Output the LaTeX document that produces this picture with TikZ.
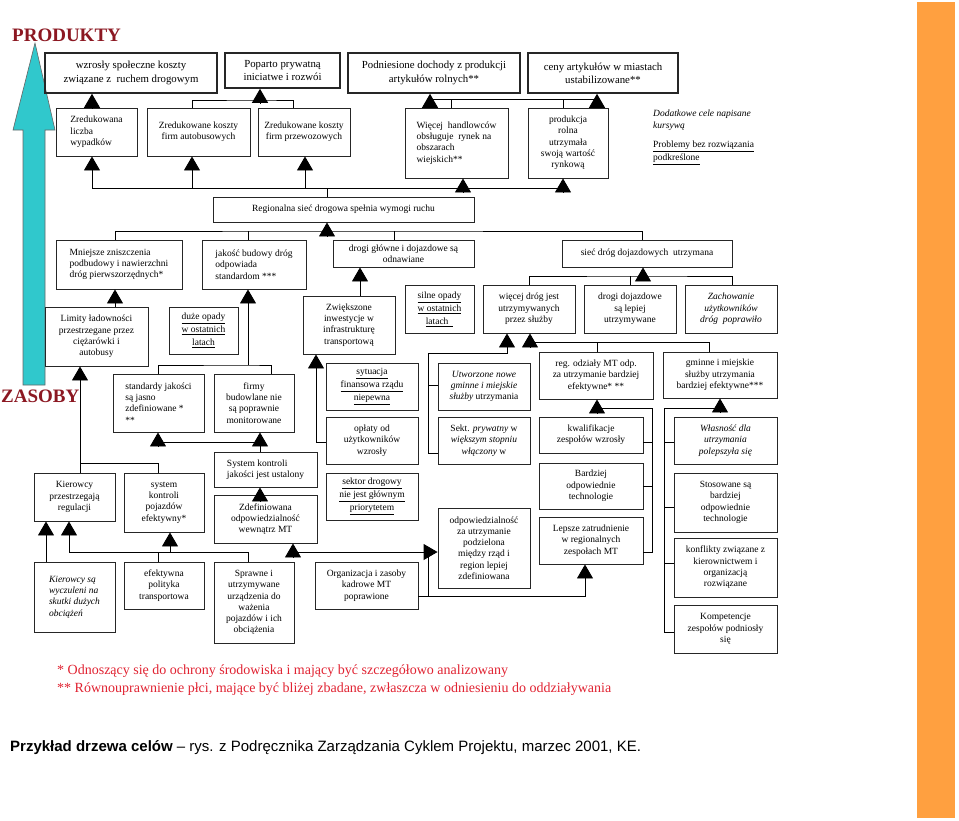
\documentclass[tikz,border=0pt]{standalone}
\usepackage{fontspec}
\setmainfont{Liberation Serif}
\newfontfamily\capfont{Liberation Sans}
\usetikzlibrary{arrows.meta,calc}
\definecolor{ZasobyCyan}{RGB}{48,200,204}
\definecolor{TitleRed}{RGB}{140,24,34}
\definecolor{NoteRed}{RGB}{225,35,50}
\definecolor{BarOrange}{RGB}{255,160,64}

\begin{document}
\begin{tikzpicture}[x=1pt,y=-1pt,
  box/.style={draw=black!85,line width=0.9pt,align=center,
              inner xsep=3pt,inner ysep=2pt,
              font=\fontsize{9.5}{11.3}\selectfont},
  topbox/.style={box,line width=1.6pt,font=\fontsize{10.8}{13.3}\selectfont},
  itbox/.style={font=\fontsize{9.5}{11.3}\selectfont\itshape},
  ulbox/.style={font=\fontsize{9.5}{13}\selectfont},
  sz/.style 2 args={minimum width=#1pt,minimum height=#2pt},
  ln/.style={line width=0.9pt},
  arr/.style={ln,-{Triangle[length=14pt,width=16pt]}},
]
\useasboundingbox (0,0) rectangle (959,820);
\fill[white] (0,0) rectangle (959,820);
\fill[BarOrange] (917,2) rectangle (955,818);

% big arrow ZASOBY -> PRODUKTY
\draw[black!60,line width=0.6pt,fill=ZasobyCyan]
  (35,43) -- (55,130) -- (45,130) -- (45,385) -- (23,385) -- (23,130) -- (13,130) -- cycle;
\node[anchor=west,inner sep=0,text=TitleRed,font=\fontsize{19}{22}\selectfont\bfseries]
  (prod) at (12,35) {PRODUKTY};
\node[anchor=west,inner sep=0,text=TitleRed,font=\fontsize{19}{22}\selectfont\bfseries]
  (zas) at (1,396) {ZASOBY};

% legend
\node[anchor=north west,align=left,inner sep=0,itbox] (leg1) at (653,110)
  {Dodatkowe cele napisane\\kursywą};
\node[anchor=north west,align=left,inner sep=0,ulbox]
  (leg2) at (653,141) {\underline{Problemy bez rozwiązania}\\\underline{podkreślone}};

% top row
\node[topbox,sz={172}{40}] (spol) at (131,73) {wzrosły społeczne koszty\\związane z \ ruchem drogowym};
\node[topbox,sz={115}{35}] (poparto) at (282.5,70.5) {Poparto prywatną\\iniciatwe i rozwói};
\node[topbox,sz={172}{40}] (dochody) at (434,73) {Podniesione dochody z produkcji\\artykułów rolnych**};
\node[topbox,sz={150}{40}] (ceny) at (603,73) {ceny artykułów w miastach\\ustabilizowane**};

% second row
\node[box,sz={81}{48},align=left] (wypadki) at (96.5,132) {Zredukowana\\liczba\\wypadków};
\node[box,sz={103}{48}] (autob) at (198.5,132) {Zredukowane koszty\\firm autobusowych};
\node[box,sz={92}{48}] (przew) at (304,132) {Zredukowane koszty\\firm przewozowych};
\node[box,sz={103}{70},align=left] (handl) at (456.5,143) {Więcej \ handlowców\\obsługuje \ rynek na\\obszarach\\wiejskich**};
\node[box,sz={80}{70}] (rolna) at (568,143) {produkcja\\rolna\\utrzymała\\swoją wartość\\rynkową};

\node[box,sz={261}{25}] (reg) at (343.5,209.5) {Regionalna sieć drogowa spełnia wymogi ruchu};

% third row
\node[box,sz={126}{49},align=left] (zniszcz) at (119,264.5) {Mniejsze zniszczenia\\podbudowy i nawierzchni\\dróg pierwszorzędnych*};
\node[box,sz={104}{49},align=left] (jakosc) at (254,264.5) {jakość budowy dróg\\odpowiada\\standardom ***};
\node[box,sz={141}{27}] (glowne) at (403.5,253.5) {drogi główne i dojazdowe są\\odnawiane};
\node[box,sz={170}{27}] (siec) at (647,253.5) {sieć dróg dojazdowych \ utrzymana};

% fourth row
\node[box,sz={103}{59}] (limity) at (96.5,336.5) {Limity ładowności\\przestrzegane przez\\ciężarówki i\\autobusy};
\node[box,sz={69}{47},ulbox] (opady) at (203.5,330.5) {\underline{duże opady}\\\underline{w ostatnich}\\\underline{latach}};
\node[box,sz={92}{58}] (inwest) at (349,325) {Zwiększone\\inwestycje w\\infrastrukturę\\transportową};
\node[box,sz={69}{48},ulbox] (silne) at (439.5,309) {\underline{silne opady}\\\underline{w ostatnich}\\\underline{latach\ \ }};
\node[box,sz={92}{48}] (wiecej) at (529,309) {więcej dróg jest\\utrzymywanych\\przez służby};
\node[box,sz={92}{48}] (dojazd) at (630,309) {drogi dojazdowe\\są lepiej\\utrzymywane};
\node[box,sz={92}{48},itbox] (zachow) at (731,309) {Zachowanie\\użytkowników\\dróg \ poprawiło};

\node[box,sz={91}{58},align=left] (standard) at (158.5,403) {standardy jakości\\są jasno\\zdefiniowane *\\**};
\node[box,sz={80}{58}] (firmy) at (254,403) {firmy\\budowlane nie\\są poprawnie\\monitorowane};

% middle block
\node[box,sz={92}{47},ulbox] (sytuac) at (372,386.5) {\underline{sytuacja}\\\underline{finansowa rządu}\\\underline{niepewna}};
\node[box,sz={92}{47}] (utworz) at (484,386.5) {\textit{Utworzone nowe}\\\textit{gminne i miejskie}\\\textit{służby} utrzymania};
\node[box,sz={114}{47}] (regodz) at (596,375.5) {reg. odziały MT odp.\\za utrzymanie bardziej\\efektywne* **};
\node[box,sz={114}{46}] (gminne) at (720,375) {gminne i miejskie\\służby utrzymania\\bardziej efektywne***};
\node[box,sz={92}{47}] (oplaty) at (372,440.5) {opłaty od\\użytkowników\\wzrosły};
\node[box,sz={92}{47}] (sekt) at (484,440.5) {Sekt. \textit{prywatny} w\\\textit{większym stopniu}\\\textit{włączony} w};
\node[box,sz={104}{36}] (kwalif) at (591,435) {kwalifikacje\\zespołów wzrosły};
\node[box,sz={92}{47},ulbox] (sektor) at (372,496.5) {\underline{sektor drogowy}\\\underline{nie jest głównym}\\\underline{priorytetem}};
\node[box,sz={104}{46}] (technol) at (591,486) {Bardziej\\odpowiednie\\technologie};
\node[box,sz={104}{47}] (zatrud) at (591,540.5) {Lepsze zatrudnienie\\w regionalnych\\zespołach MT};
\node[box,sz={92}{80}] (odpow) at (484,548) {odpowiedzialność\\za utrzymanie\\podzielona\\między rząd i\\region lepiej\\zdefiniowana};
\node[box,sz={103}{47}] (org) at (366.5,585.5) {Organizacja i zasoby\\kadrowe MT\\poprawione};
\node[box,sz={103}{35},align=left] (syskj) at (265.5,469.5) {System kontroli\\jakości jest ustalony};
\node[box,sz={103}{48}] (zdef) at (265.5,519) {Zdefiniowana\\odpowiedzialność\\wewnątrz MT};

% bottom left
\node[box,sz={81}{48}] (kier) at (74.5,497) {Kierowcy\\przestrzegają\\regulacji};
\node[box,sz={80}{59}] (sysp) at (164,502.5) {system\\kontroli\\pojazdów\\efektywny*};
\node[box,sz={81}{70},itbox,align=left] (wyczul) at (74.5,597) {Kierowcy są\\wyczuleni na\\skutki dużych\\obciążeń};
\node[box,sz={80}{47}] (polit) at (164,585.5) {efektywna\\polityka\\transportowa};
\node[box,sz={80}{81}] (sprawne) at (254,602.5) {Sprawne i\\utrzymywane\\urządzenia do\\ważenia\\pojazdów i ich\\obciążenia};

% right column
\node[box,sz={103}{47},itbox] (wlasn) at (725.5,440.5) {Własność dla\\utrzymania\\polepszyła się};
\node[box,sz={103}{59}] (stosow) at (725.5,502.5) {Stosowane są\\bardziej\\odpowiednie\\technologie};
\node[box,sz={103}{59}] (konfl) at (725.5,567.5) {konflikty związane z\\kierownictwem i\\organizacją\\rozwiązane};
\node[box,sz={103}{48}] (kompet) at (725.5,629) {Kompetencje\\zespołów podniosły\\się};

% links to the top row
\draw[arr] (wypadki.north -| 92,0) -- (spol.south -| 92,0);
\coordinate (jpop) at (260,100);
\draw[ln] (autob.north -| 192,0) |- (jpop) -| (przew.north -| 293,0);
\draw[arr] ($(jpop)+(0,3)$) -- (poparto.south -| jpop);
\coordinate (jdoch) at (430,99);
\coordinate (jceny) at (597,99);
\draw[ln] (jdoch) -- (jceny);
\draw[ln] (handl.north -| 451,0) -- (jdoch -| 451,0);
\draw[ln] (rolna.north -| 563,0) -- (jdoch -| 563,0);
\draw[arr] ($(jdoch)+(0,4)$) -- (dochody.south -| jdoch);
\draw[arr] ($(jceny)+(0,4)$) -- (ceny.south -| jceny);

% Regionalna siec
\coordinate (jreg) at (327,188);
\draw[ln] (reg.north -| jreg) -- (jreg);
\draw[ln] (jreg -| 92,0) -- (jreg -| 563,0);
\foreach \n/\x/\s in {wypadki/92/0,autob/192/0,przew/305/0,handl/463/4,rolna/563/4}
  \draw[arr] ($(jreg -| \x,0)+(0,\s)$) -- (\n.south -| \x,0);
\coordinate (jr3) at (327,231);
\draw[arr] ($(jr3)+(0,5)$) -- (reg.south -| jr3);
\draw[ln] (zniszcz.north -| 115,0) |- (jr3) -| (siec.north -| 642,0);
\draw[ln] (jakosc.north -| 248,0) -- (jr3 -| 248,0);
\draw[ln] (glowne.north -| 394,0) -- (jr3 -| 394,0);

% third / fourth row
\draw[arr] (limity.north -| 115,0) -- (zniszcz.south -| 115,0);
\draw[arr] (inwest.north -| 360,0) -- (glowne.south -| 360,0);
\coordinate (jsiec) at (643,276);
\draw[arr] ($(jsiec)+(0,4)$) -- (siec.south -| jsiec);
\draw[ln] (wiecej.north) |- (jsiec) -| (zachow.north -| 732,0);
\draw[ln] (dojazd.north) -- (dojazd.north |- jsiec);
\coordinate (jjak) at (248,365);
\draw[arr] (jjak) -- (jakosc.south -| jjak);
\draw[ln] (standard.north) |- (jjak) -| (firmy.north -| 271,0);

% quality control
\coordinate (jsk) at (260,442);
\draw[arr] (syskj.north -| jsk) -- (firmy.south -| jsk);
\draw[ln] (jsk) -- (jsk -| 158,0);
\draw[arr] ($(jsk -| 158,0)+(0,5)$) -- (standard.south -| 158,0);
\draw[arr] ($(zdef.north -| jsk)+(0,7)$) -- (syskj.south -| jsk);

% drivers and vehicles
\coordinate (jlim) at (80,463);
\draw[arr] (kier.north -| jlim) -- (limity.south -| jlim);
\draw[ln] (jlim) -| (sysp.north -| 158,0);
\draw[arr] (wyczul.north -| 46,0) -- (kier.south -| 46,0);
\coordinate (jg) at (69,552);
\draw[arr] (jg) -- (kier.south -| jg);
\draw[ln] (jg) -| (sprawne.north -| 248,0);
\draw[ln] (polit.north -| 158,0) -- (jg -| 158,0);
\draw[arr] (jg -| 170,0) -- (sysp.south -| 170,0);

% organisation
\coordinate (jzd) at (293,552);
\draw[arr] ($(jzd)+(0,5)$) -- (zdef.south -| jzd);
\draw[arr] (jzd) -- (odpow.west |- jzd);
\coordinate (jorg) at (428,596);
\draw[ln] (jorg) -- (jorg |- jzd);
\draw[arr] (org.east |- jorg) -| (zatrud.south -| 585,0);

% regional units
\coordinate (jrg) at (597,408);
\draw[ln] (zatrud.east |- 0,552) -| (jrg -| 652,0) -- (jrg);
\draw[ln] (kwalif.east |- 0,442) -- (652,442);
\draw[ln] (technol.east |- 0,486) -- (652,486);
\draw[arr] ($(jrg)+(0,5)$) -- (regodz.south -| jrg);

% more roads maintained
\coordinate (jwiec) at (530,342);
\draw[arr] ($(jwiec)+(0,5)$) -- (wiecej.south -| jwiec);
\draw[ln] (jwiec) -| (gminne.north -| 709,0);
\draw[ln] (regodz.north -| 597,0) -- (jwiec -| 597,0);
\coordinate (jutw) at (428,353);
\draw[arr] (sekt.west |- 0,453) -| (jutw) -| (wiecej.south -| 507,0);
\draw[ln] (utworz.west |- 0,385) -- (jutw |- 0,385);
\draw[arr] (oplaty.west |- 0,442) -| (inwest.south -| 316,0);

% municipal services
\coordinate (jgm) at (720,408);
\draw[arr] ($(jgm)+(0,5)$) -- (gminne.south -| jgm);
\draw[ln] (kompet.west |- 0,632) -| (jgm -| 664,0) -- (jgm);
\foreach \n/\y in {wlasn/442,stosow/507,konfl/563}
  \draw[ln] (\n.west |- 0,\y) -- (664,\y);

% notes
\node[anchor=west,inner sep=0,text=NoteRed,font=\fontsize{14}{16}\selectfont] (fn1) at (57,671)
  {* Odnoszący się do ochrony środowiska i mający być szczegółowo analizowany};
\node[anchor=west,inner sep=0,text=NoteRed,font=\fontsize{14}{16}\selectfont] (fn2) at (57,689)
  {** Równouprawnienie płci, mające być bliżej zbadane, zwłaszcza w odniesieniu do oddziaływania};
\node[anchor=west,inner sep=0,font=\capfont\fontsize{15}{17}\selectfont] (cap) at (10,748)
  {\textbf{Przykład drzewa celów} – rys. z Podręcznika Zarządzania Cyklem Projektu, marzec 2001, KE.};
\end{tikzpicture}
\end{document}
